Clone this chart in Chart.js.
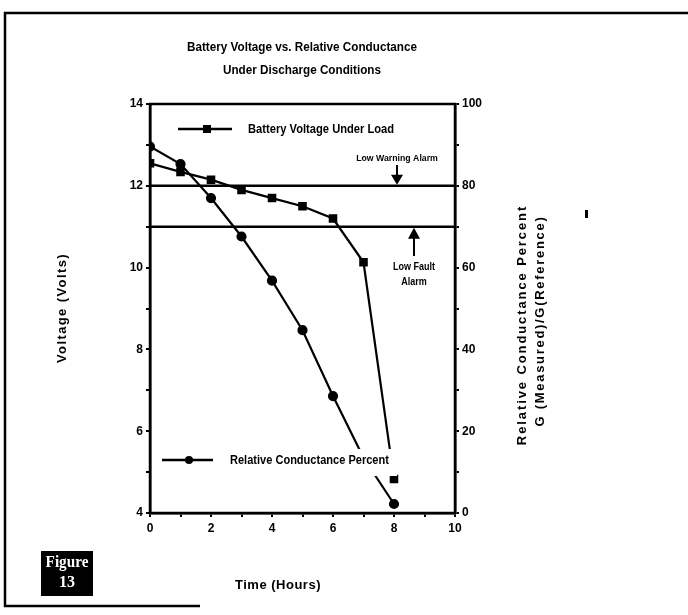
<!DOCTYPE html>
<html><head><meta charset="utf-8">
<script src="https://cdn.jsdelivr.net/npm/chart.js@4/dist/chart.umd.min.js"></script>
<style>html,body{margin:0;padding:0;background:#fff}canvas{display:block}</style>
</head><body>
<canvas id="c" width="688" height="615"></canvas>
<script>
// ---- data ----
const hours = [0, 1, 2, 3, 4, 5, 6, 7, 8];
const voltage = [12.55, 12.34, 12.15, 11.9, 11.7, 11.5, 11.2, 10.13, 4.83];      // Volts
const conductance = [89.6, 85.3, 77.0, 67.6, 56.8, 44.7, 28.6, 13.5, 2.2];      // percent
const warningVolts = 12;      // Low Warning Alarm level (left axis)
const faultPercent = 70;      // Low Fault Alarm level (right axis)
const titleLines = ['Battery Voltage vs. Relative Conductance', 'Under Discharge Conditions'];
const voltLabel = 'Voltage (Volts)';
const condLabel = ['Relative Conductance Percent', 'G (Measured)/G(Reference)'];
const timeLabel = 'Time (Hours)';
const voltSeriesName = 'Battery Voltage Under Load';
const condSeriesName = 'Relative Conductance Percent';

const FAM = '"Liberation Sans", Arial, sans-serif';

function narrowText(c, t, x, y, sx) {
  c.save(); c.translate(x, y); c.scale(sx, 1); c.fillText(t, 0, 0); c.restore();
}
function spacedRot(c, t, x, y, spacing) {
  c.save(); c.translate(x, y); c.rotate(-Math.PI / 2);
  if ('letterSpacing' in c) c.letterSpacing = spacing + 'px';
  c.fillText(t, 0, 0);
  c.restore();
}

const decor = {
  id: 'decor',
  beforeDraw(chart) {
    const c = chart.ctx;
    c.save();
    c.fillStyle = '#fff';
    c.fillRect(0, 0, chart.width, chart.height);
    c.restore();
  },
  beforeDatasetsDraw(chart) {
    const c = chart.ctx, a = chart.chartArea;
    const y = chart.scales.y, y1 = chart.scales.y1;
    c.save();
    c.strokeStyle = '#000';
    c.lineWidth = 2.5;
    c.strokeRect(a.left, a.top, a.right - a.left, a.bottom - a.top);
    const wy = y.getPixelForValue(warningVolts);
    const fy = y1.getPixelForValue(faultPercent);
    c.beginPath();
    c.moveTo(a.left, wy); c.lineTo(a.right, wy);
    c.moveTo(a.left, fy); c.lineTo(a.right, fy);
    c.stroke();
    c.restore();
  },
  afterDatasetsDraw(chart) {
    const c = chart.ctx;
    const y = chart.scales.y, y1 = chart.scales.y1;
    c.save();
    c.strokeStyle = '#000';
    // legend 2 (white box covering lines)
    c.fillStyle = '#fff';
    c.fillRect(225, 449, 172, 27);
    c.fillStyle = '#000';
    c.font = 'bold 12px ' + FAM; c.textBaseline = 'middle'; c.textAlign = 'left';
    narrowText(c, condSeriesName, 230, 461, 0.92);
    c.lineWidth = 2.5;
    c.beginPath(); c.moveTo(162, 460); c.lineTo(213, 460); c.stroke();
    c.beginPath(); c.arc(189, 460, 4, 0, Math.PI * 2); c.fill();
    // legend 1
    c.beginPath(); c.moveTo(178, 129); c.lineTo(232, 129); c.stroke();
    c.fillRect(203, 125, 8, 8);
    narrowText(c, voltSeriesName, 248, 130, 0.93);
    // alarm annotations
    const wy = y.getPixelForValue(warningVolts);
    const fy = y1.getPixelForValue(faultPercent);
    c.font = 'bold 9px ' + FAM;
    c.textAlign = 'center';
    narrowText(c, 'Low Warning Alarm', 397, 159, 0.97);
    c.font = 'bold 10px ' + FAM;
    narrowText(c, 'Low Fault', 414, 267, 0.9);
    narrowText(c, 'Alarm', 414, 282, 0.9);
    c.lineWidth = 2;
    c.beginPath(); c.moveTo(397, 165); c.lineTo(397, wy - 8); c.stroke();
    c.beginPath(); c.moveTo(391, wy - 11); c.lineTo(403, wy - 11); c.lineTo(397, wy - 1); c.closePath(); c.fill();
    c.beginPath(); c.moveTo(414, 256); c.lineTo(414, fy + 8); c.stroke();
    c.beginPath(); c.moveTo(408, fy + 12); c.lineTo(420, fy + 12); c.lineTo(414, fy + 1); c.closePath(); c.fill();
    c.restore();
  },
  afterDraw(chart) {
    const c = chart.ctx;
    c.save();
    c.fillStyle = '#000'; c.strokeStyle = '#000';
    // outer frame
    c.lineWidth = 2.5;
    c.beginPath();
    c.moveTo(688, 13); c.lineTo(5, 13); c.lineTo(5, 606); c.lineTo(200, 606);
    c.stroke();
    // title
    c.font = 'bold 13px ' + FAM;
    c.textAlign = 'center'; c.textBaseline = 'middle';
    narrowText(c, titleLines[0], 302, 47, 0.9);
    narrowText(c, titleLines[1], 302, 70, 0.9);
    // axis titles
    c.font = 'bold 13px ' + FAM;
    c.save();
    if ('letterSpacing' in c) c.letterSpacing = '0.5px';
    c.fillText(timeLabel, 278, 585);
    c.restore();
    spacedRot(c, voltLabel, 62, 308, 1.4);
    spacedRot(c, condLabel[0], 522, 325, 1.9);
    spacedRot(c, condLabel[1], 540, 321, 1.7);
    // scan mark
    c.fillRect(585, 210, 3, 8);
    // Figure box
    c.fillRect(41, 551, 52, 45);
    c.fillStyle = '#fff';
    c.font = 'bold 16px "Liberation Serif", "Times New Roman", serif';
    narrowText(c, 'Figure', 67, 563, 0.95);
    narrowText(c, '13', 67, 583, 1);
    c.restore();
  }
};

const tickFont = { family: FAM, size: 12, weight: 'bold' };

new Chart(document.getElementById('c'), {
  type: 'line',
  data: {
    datasets: [
      {
        label: voltSeriesName,
        data: hours.map((h, i) => ({ x: h, y: voltage[i] })),
        yAxisID: 'y',
        borderColor: '#000', backgroundColor: '#000',
        borderWidth: 2.2, pointStyle: 'rect', pointRadius: 4.5,
        tension: 0
      },
      {
        label: condSeriesName,
        data: hours.map((h, i) => ({ x: h, y: conductance[i] })),
        yAxisID: 'y1',
        borderColor: '#000', backgroundColor: '#000',
        borderWidth: 2.2, pointStyle: 'circle',
        pointRadius: hours.map(h => h === 7 ? 0 : 4),
        tension: 0
      }
    ]
  },
  options: {
    responsive: false,
    animation: false,
    devicePixelRatio: 1,
    layout: { padding: { left: 50, right: 133, top: 104, bottom: 0 } },
    plugins: { legend: { display: false }, tooltip: { enabled: false }, title: { display: false } },
    scales: {
      x: {
        type: 'linear', min: 0, max: 10,
        ticks: { stepSize: 1, autoSkip: false, maxRotation: 0, color: '#000', font: tickFont, padding: 4,
          callback: v => (v % 2 === 0 ? String(v) : '') },
        grid: { drawOnChartArea: false, tickLength: 4, color: '#000', lineWidth: 2 },
        border: { color: '#000', width: 2.5 },
        afterFit(s) { s.height = 102; }
      },
      y: {
        type: 'linear', position: 'left', min: 4, max: 14,
        ticks: { stepSize: 1, autoSkip: false, color: '#000', font: tickFont, padding: 3,
          callback: v => (v % 2 === 0 ? String(v) : '') },
        grid: { drawOnChartArea: false, tickLength: 4, color: '#000', lineWidth: 2 },
        border: { color: '#000', width: 2.5 },
        afterFit(s) { s.width = 100; }
      },
      y1: {
        type: 'linear', position: 'right', min: 0, max: 100,
        ticks: { stepSize: 10, autoSkip: false, color: '#000', font: tickFont, padding: 3,
          callback: v => (v % 20 === 0 ? String(v) : '') },
        grid: { drawOnChartArea: false, tickLength: 4, color: '#000', lineWidth: 2 },
        border: { color: '#000', width: 2.5 },
        afterFit(s) { s.width = 100; }
      }
    }
  },
  plugins: [decor]
});
</script>
</body></html>
